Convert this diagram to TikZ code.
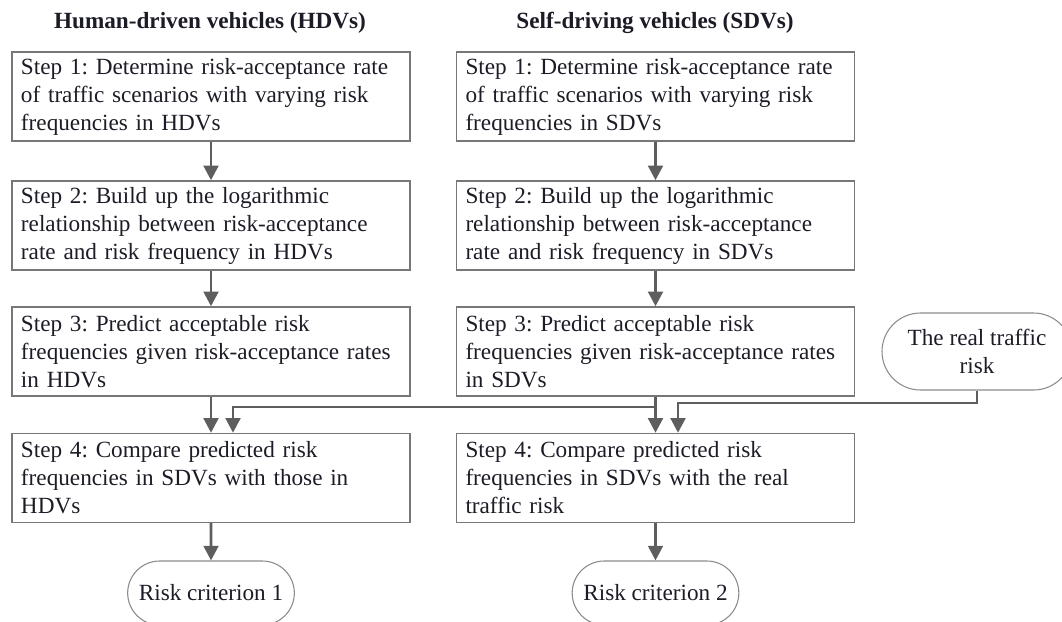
\documentclass[tikz,border=0pt]{standalone}
\usepackage{fontspec}
\setmainfont{Liberation Serif}
\usetikzlibrary{arrows.meta,shapes.misc}
\definecolor{linegray}{HTML}{5E5E5E}
\definecolor{boxgray}{HTML}{777777}
\definecolor{inkdark}{HTML}{1C1C26}
\tikzset{
	stepbox/.style={draw=boxgray, line width=1.1pt, text width=285pt, align=left,
		inner xsep=6.75pt, inner ysep=0pt, minimum height=66.75pt,
		font=\fontsize{17.4}{21}\selectfont, text=inkdark},
	endcap/.style={draw=boxgray!85, line width=0.8pt, rounded rectangle,
		align=center, inner sep=0pt, font=\fontsize{17.4}{21}\selectfont, text=inkdark},
	heading/.style={font=\fontsize{17.4}{21}\selectfont\bfseries, text=inkdark},
	flow/.style={draw=linegray, line width=2.2pt, -{Triangle[length=11pt,width=11pt]}},
}
\frenchspacing

\begin{document}
\begin{tikzpicture}[x=0.75pt, y=-0.75pt]
			%%%%% START %%%%%
			\useasboundingbox (0, 0) rectangle (1062, 621);
			
			\node[heading] (headL) at (210, 23) {Human-driven vehicles (HDVs)};
			\node[heading] (headR) at (655, 23) {Self-driving vehicles (SDVs)};
			
			% human-driven column
			\node[stepbox] (s1L) at (211, 96.5) {Step 1: Determine risk-acceptance rate\\ of traffic scenarios with varying risk\\ frequencies in HDVs};
			\node[stepbox] (s2L) at (211, 225.5) {Step 2: Build up the logarithmic\\ relationship between risk-acceptance\\ rate and risk frequency in HDVs};
			\node[stepbox] (s3L) at (211, 351.5) {Step 3: Predict acceptable risk\\ frequencies given risk-acceptance rates\\ in HDVs};
			\node[stepbox] (s4L) at (211, 478) {Step 4: Compare predicted risk\\ frequencies in SDVs with those in\\ HDVs};
			\node[endcap, minimum width=125pt, minimum height=48pt] (rc1) at (211, 593) {Risk criterion 1};
			
			% self-driving column
			\node[stepbox] (s1R) at (655.5, 96.5) {Step 1: Determine risk-acceptance rate\\ of traffic scenarios with varying risk\\ frequencies in SDVs};
			\node[stepbox] (s2R) at (655.5, 225.5) {Step 2: Build up the logarithmic\\ relationship between risk-acceptance\\ rate and risk frequency in SDVs};
			\node[stepbox] (s3R) at (655.5, 351.5) {Step 3: Predict acceptable risk\\ frequencies given risk-acceptance rates\\ in SDVs};
			\node[stepbox] (s4R) at (655.5, 478) {Step 4: Compare predicted risk\\ frequencies in SDVs with the real\\ traffic risk};
			\node[endcap, minimum width=125pt, minimum height=48pt] (rc2) at (655.5, 593) {Risk criterion 2};
			
			\node[endcap, minimum width=142.5pt, minimum height=57.75pt] (rt) at (977, 351.5) {The real traffic\\ risk};
			
			\coordinate (jR) at (655.5, 407);
			\coordinate (jL) at (233, 407);
			\coordinate (kL) at (678, 403);
			
			\draw[flow] (s1L) -- (s2L);
			\draw[flow] (s2L) -- (s3L);
			\draw[flow] (s3L) -- (s4L);
			\draw[flow] (s4L) -- (rc1);
			
			\draw[flow] (s1R) -- (s2R);
			\draw[flow] (s2R) -- (s3R);
			\draw[flow] (s3R) -- (s4R);
			\draw[flow] (s4R) -- (rc2);
			
			\draw[flow] (jR) -- (jL) -- (jL |- s4L.north);
			\draw[flow] (rt.south) |- (kL) -- (kL |- s4R.north);
			
			%%%%% END %%%%%
\end{tikzpicture}
\end{document}
